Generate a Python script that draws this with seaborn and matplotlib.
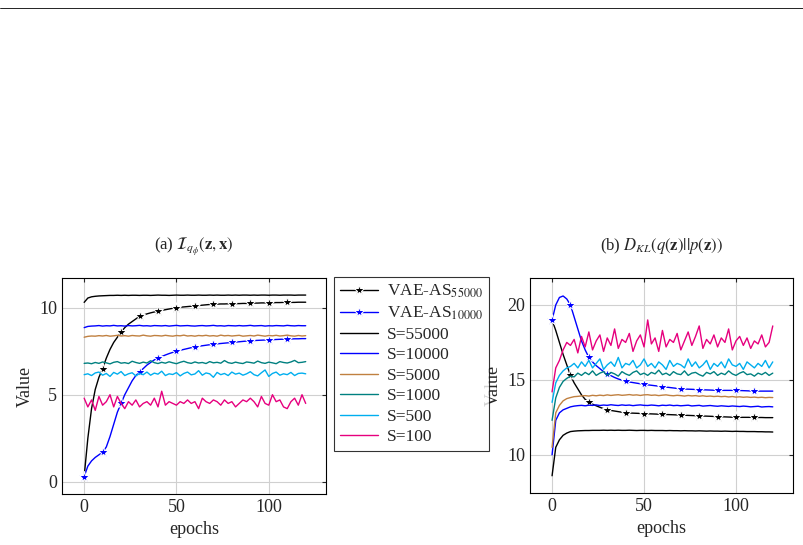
import numpy as np
import matplotlib
matplotlib.use("Agg")
import matplotlib.pyplot as plt
from matplotlib.lines import Line2D
import seaborn as sns

epochs = list(range(0, 121, 2))

# (a) mutual information
mi_vae_55000 = [0.3, 2.5, 4.2, 5.3, 6.0, 6.5, 7.1, 7.6, 8.0, 8.3, 8.6, 8.85, 9.05, 9.2, 9.35, 9.5,
                9.57, 9.64, 9.7, 9.75, 9.8, 9.84, 9.88, 9.92, 9.96, 10.0, 10.02, 10.04, 10.06, 10.08,
                10.1, 10.12, 10.14, 10.16, 10.18, 10.2, 10.2, 10.21, 10.21, 10.22, 10.22, 10.23,
                10.23, 10.24, 10.24, 10.25, 10.26, 10.26, 10.27, 10.27, 10.28, 10.28, 10.29, 10.29,
                10.3, 10.3, 10.3, 10.3, 10.31, 10.31, 10.31]
mi_vae_10000 = [0.3, 0.9, 1.2, 1.4, 1.55, 1.7, 2.0, 2.6, 3.3, 4.0, 4.5, 5.0, 5.4, 5.8, 6.1, 6.3,
                6.5, 6.7, 6.85, 7.0, 7.1, 7.19, 7.28, 7.36, 7.43, 7.5, 7.55, 7.6, 7.65, 7.7, 7.75,
                7.78, 7.81, 7.84, 7.87, 7.9, 7.92, 7.94, 7.96, 7.98, 8.0, 8.02, 8.04, 8.06, 8.08,
                8.1, 8.11, 8.12, 8.13, 8.14, 8.15, 8.16, 8.17, 8.18, 8.19, 8.2, 8.2, 8.21, 8.21,
                8.22, 8.22]
mi_s55000 = [10.3, 10.55, 10.62, 10.65, 10.67, 10.68, 10.69, 10.7, 10.7, 10.71, 10.7, 10.71, 10.7,
             10.71, 10.71, 10.7, 10.71, 10.71, 10.7, 10.71, 10.72, 10.71, 10.71, 10.7, 10.71, 10.72,
             10.71, 10.71, 10.72, 10.71, 10.71, 10.72, 10.71, 10.71, 10.72, 10.71, 10.72, 10.71,
             10.71, 10.72, 10.71, 10.72, 10.71, 10.72, 10.72, 10.71, 10.72, 10.71, 10.72, 10.72,
             10.71, 10.72, 10.72, 10.71, 10.72, 10.72, 10.72, 10.71, 10.72, 10.72, 10.72]
mi_s10000 = [8.85, 8.92, 8.94, 8.95, 8.97, 8.94, 8.96, 8.95, 8.98, 8.95, 8.96, 8.94, 8.97, 8.95,
             8.96, 8.98, 8.95, 8.96, 8.94, 8.97, 8.96, 8.95, 8.97, 8.94, 8.96, 8.98, 8.95, 8.96,
             8.97, 8.95, 8.94, 8.96, 8.97, 8.95, 8.96, 8.98, 8.95, 8.96, 8.94, 8.97, 8.96, 8.95,
             8.97, 8.95, 8.96, 8.98, 8.95, 8.96, 8.97, 8.94, 8.96, 8.95, 8.97, 8.96, 8.95, 8.98,
             8.96, 8.95, 8.97, 8.96, 8.96]
mi_s5000 = [8.3, 8.35, 8.37, 8.36, 8.39, 8.37, 8.4, 8.36, 8.38, 8.41, 8.37, 8.39, 8.36, 8.4, 8.38,
            8.37, 8.42, 8.38, 8.36, 8.4, 8.39, 8.37, 8.41, 8.38, 8.36, 8.4, 8.38, 8.42, 8.37, 8.39,
            8.36, 8.4, 8.38, 8.41, 8.37, 8.39, 8.36, 8.42, 8.38, 8.4, 8.37, 8.39, 8.41, 8.36, 8.38,
            8.4, 8.37, 8.42, 8.39, 8.36, 8.4, 8.38, 8.41, 8.37, 8.39, 8.42, 8.38, 8.36, 8.4, 8.37,
            8.39]
mi_s1000 = [6.8, 6.82, 6.78, 6.85, 6.8, 6.88, 6.83, 6.77, 6.86, 6.9, 6.81, 6.84, 6.79, 6.92, 6.85,
            6.8, 6.87, 6.82, 6.95, 6.84, 6.79, 6.86, 6.81, 6.89, 6.83, 6.78, 6.86, 6.92, 6.84,
            6.8, 6.88, 6.82, 6.85, 6.79, 6.9, 6.83, 6.86, 6.81, 6.96, 6.84, 6.8, 6.87, 6.82, 6.79,
            6.88, 6.85, 6.81, 6.93, 6.84, 6.8, 6.87, 6.83, 6.78, 6.9, 6.85, 6.82, 6.88, 6.97, 6.84,
            6.86, 6.9]
mi_s500 = [6.15, 6.2, 6.1, 6.25, 6.3, 6.12, 6.22, 6.05, 6.28, 6.18, 6.33, 6.1, 6.2, 6.26, 6.08,
           6.22, 6.15, 6.3, 6.12, 6.24, 6.18, 6.35, 6.1, 6.2, 6.16, 6.27, 6.08, 6.22, 6.3, 6.14,
           6.19, 6.38, 6.12, 6.25, 6.2, 6.0, 6.28, 6.15, 6.22, 6.1, 6.3, 6.18, 6.24, 6.12, 6.2,
           6.32, 6.15, 6.08, 6.26, 6.42, 6.05, 6.22, 6.3, 6.12, 6.2, 6.15, 6.28, 6.1, 6.22, 6.24,
           6.2]
mi_s100 = [4.8, 4.3, 4.7, 4.1, 4.9, 4.4, 4.6, 5.0, 4.3, 4.9, 4.5, 4.2, 4.6, 4.4, 4.7, 4.3, 4.5,
           4.6, 4.4, 4.8, 4.3, 5.2, 4.4, 4.6, 4.5, 4.4, 4.6, 4.5, 4.7, 4.5, 4.6, 4.2, 4.8, 4.6,
           4.5, 4.7, 4.6, 4.4, 4.7, 4.5, 4.6, 4.3, 4.5, 4.7, 4.6, 4.8, 4.6, 4.3, 4.9, 4.5, 4.4,
           5.0, 4.6, 4.7, 4.3, 4.2, 4.6, 4.8, 4.4, 5.0, 4.5]

# (b) KL divergence
kl_vae_55000 = [19.0, 18.3, 17.5, 16.7, 16.0, 15.3, 14.8, 14.4, 14.0, 13.7, 13.5, 13.38, 13.27,
                13.17, 13.08, 13.0, 12.96, 12.92, 12.88, 12.84, 12.8, 12.79, 12.78, 12.77, 12.76,
                12.75, 12.74, 12.73, 12.72, 12.71, 12.7, 12.69, 12.68, 12.67, 12.66, 12.65, 12.64,
                12.63, 12.62, 12.61, 12.6, 12.59, 12.58, 12.57, 12.56, 12.55, 12.54, 12.53, 12.52,
                12.51, 12.5, 12.5, 12.5, 12.5, 12.5, 12.5, 12.49, 12.49, 12.48, 12.48, 12.48]
kl_vae_10000 = [19.0, 20.0, 20.5, 20.6, 20.4, 20.0, 19.2, 18.4, 17.6, 17.0, 16.5, 16.2, 15.95,
                15.75, 15.55, 15.4, 15.28, 15.16, 15.06, 14.98, 14.9, 14.86, 14.82, 14.78, 14.74,
                14.7, 14.67, 14.64, 14.61, 14.58, 14.55, 14.52, 14.49, 14.46, 14.43, 14.4, 14.39,
                14.38, 14.37, 14.36, 14.35, 14.34, 14.33, 14.32, 14.31, 14.3, 14.3, 14.3, 14.3,
                14.3, 14.3, 14.29, 14.28, 14.27, 14.26, 14.25, 14.25, 14.25, 14.25, 14.25, 14.25]
kl_s55000 = [8.6, 10.5, 11.0, 11.3, 11.45, 11.55, 11.58, 11.6, 11.61, 11.62, 11.62, 11.63, 11.63,
             11.63, 11.64, 11.63, 11.64, 11.63, 11.64, 11.63, 11.63, 11.64, 11.63, 11.62, 11.63,
             11.63, 11.62, 11.63, 11.62, 11.62, 11.62, 11.61, 11.62, 11.61, 11.61, 11.6, 11.61,
             11.6, 11.6, 11.59, 11.6, 11.59, 11.58, 11.59, 11.58, 11.58, 11.57, 11.58, 11.57,
             11.56, 11.57, 11.56, 11.56, 11.55, 11.55, 11.55, 11.54, 11.54, 11.53, 11.53, 11.52]
kl_s10000 = [10.0, 12.3, 12.8, 13.0, 13.1, 13.2, 13.25, 13.28, 13.3, 13.27, 13.31, 13.3, 13.33,
             13.29, 13.32, 13.3, 13.34, 13.31, 13.29, 13.33, 13.3, 13.32, 13.28, 13.31, 13.33,
             13.3, 13.29, 13.32, 13.3, 13.27, 13.31, 13.29, 13.32, 13.28, 13.3, 13.27, 13.29,
             13.31, 13.26, 13.28, 13.3, 13.25, 13.27, 13.29, 13.26, 13.24, 13.27, 13.25, 13.23,
             13.26, 13.24, 13.22, 13.25, 13.23, 13.2, 13.22, 13.24, 13.19, 13.21, 13.22, 13.2]
kl_s5000 = [10.5, 12.8, 13.3, 13.6, 13.75, 13.82, 13.88, 13.9, 13.93, 13.95, 13.92, 13.97, 13.94,
            13.98, 13.95, 14.0, 13.96, 13.99, 14.01, 13.97, 13.99, 14.02, 13.98, 14.0, 13.96, 14.0,
            14.01, 13.97, 13.99, 13.95, 13.98, 14.0, 13.96, 13.94, 13.97, 13.95, 13.92, 13.96,
            13.93, 13.95, 13.91, 13.94, 13.9, 13.92, 13.89, 13.91, 13.88, 13.9, 13.86, 13.89,
            13.85, 13.87, 13.84, 13.86, 13.83, 13.85, 13.82, 13.84, 13.81, 13.83, 13.82]
kl_s1000 = [12.3, 13.8, 14.5, 14.9, 15.1, 15.25, 15.2, 15.45, 15.3, 15.5, 15.35, 15.6, 15.3, 15.45,
            15.55, 15.3, 15.5, 15.4, 15.25, 15.55, 15.4, 15.3, 15.5, 15.6, 15.35, 15.45, 15.3,
            15.5, 15.4, 15.65, 15.35, 15.45, 15.3, 15.55, 15.4, 15.35, 15.6, 15.3, 15.45, 15.5,
            15.35, 15.25, 15.5, 15.4, 15.55, 15.3, 15.45, 15.35, 15.6, 15.4, 15.3, 15.45, 15.55,
            15.35, 15.4, 15.25, 15.45, 15.35, 15.5, 15.3, 15.45]
kl_s500 = [13.5, 14.8, 15.3, 15.6, 15.8, 15.9, 16.1, 15.8, 16.2, 15.9, 16.3, 15.8, 16.1, 16.4,
           15.7, 16.0, 16.2, 15.9, 16.5, 15.8, 16.1, 16.0, 16.3, 15.8, 16.0, 16.4, 15.9, 16.1,
           15.8, 16.2, 16.0, 15.7, 16.3, 15.9, 16.1, 16.0, 15.8, 16.4, 15.9, 16.2, 15.8, 16.0,
           16.3, 15.7, 16.1, 15.9, 16.2, 15.8, 16.4, 16.0, 15.9, 16.1, 15.7, 16.2, 16.0, 15.8,
           16.1, 15.9, 16.3, 15.8, 16.2]
kl_s100 = [14.2, 15.8, 16.3, 17.0, 17.5, 17.3, 17.7, 16.8, 17.9, 17.2, 18.2, 17.0, 17.6, 18.0,
           16.9, 17.8, 17.3, 18.4, 17.1, 17.7, 17.5, 18.1, 16.9, 17.6, 18.0, 17.2, 19.0, 17.4,
           17.8, 16.9, 18.3, 17.2, 17.7, 17.5, 18.1, 17.0, 17.6, 18.2, 17.3, 17.9, 18.6, 17.1,
           17.7, 17.4, 18.0, 17.2, 17.8, 17.5, 18.4, 17.0, 17.6, 17.9, 17.3, 17.8, 17.1, 17.6,
           17.4, 18.0, 17.2, 17.5, 18.6]

labels = ["VAE-AS$_{55000}$", "VAE-AS$_{10000}$", "S=55000", "S=10000",
          "S=5000", "S=1000", "S=500", "S=100"]
colors = ["black", "#0000ff", "black", "#0000ff", "#c08040", "#008080", "#00aeef", "#e6007e"]

sns.set_style("white")
plt.rcParams["font.family"] = ["Liberation Serif", "DejaVu Serif"]
plt.rcParams["mathtext.fontset"] = "stix"
plt.rcParams["font.size"] = 12

fig = plt.figure(figsize=(8.04, 5.45), dpi=100)
W, H = 804, 545
ax1 = fig.add_axes([62 / W, 1 - 494 / H, 264 / W, 216 / H])
ax2 = fig.add_axes([530 / W, 1 - 493 / H, 263 / W, 215 / H])
fig.add_artist(Line2D([0, 1], [1 - 8 / H, 1 - 8 / H], color="black", lw=0.6))


def draw(ax, series, title, ylim, yticks):
    for i, (vals, lab, col) in enumerate(zip(series, labels, colors)):
        kw = dict(marker="*", markersize=8, markevery=slice(0, 56, 5)) if i < 2 else {}
        sns.lineplot(x=epochs, y=vals, ax=ax, color=col, lw=1.0, label=lab, legend=False, **kw)
    ax.set_xlim(-12, 131)
    ax.set_ylim(*ylim)
    ax.set_xticks([0, 50, 100])
    ax.set_yticks(yticks)
    ax.grid(True, color="#d0d0d0", lw=0.8)
    ax.set_axisbelow(True)
    ax.tick_params(direction="in", top=True, right=True, length=3, labelsize=13)
    for s in ax.spines.values():
        s.set_color("black")
        s.set_linewidth(0.8)
    ax.set_xlabel("epochs", fontsize=13)
    ax.set_ylabel("Value", fontsize=13)
    ax.set_title(title, fontsize=12, pad=20)


draw(ax1, [mi_vae_55000, mi_vae_10000, mi_s55000, mi_s10000, mi_s5000, mi_s1000, mi_s500, mi_s100],
     r"(a) $\mathcal{I}_{q_\phi}(\mathbf{z},\mathbf{x})$", (-0.7, 11.7), [0, 5, 10])
draw(ax2, [kl_vae_55000, kl_vae_10000, kl_s55000, kl_s10000, kl_s5000, kl_s1000, kl_s500, kl_s100],
     r"(b) $D_{KL}(q(\mathbf{z})||p(\mathbf{z}))$", (7.45, 21.8), [10, 15, 20])

handles, labs = ax1.get_legend_handles_labels()
leg = fig.legend(handles, labs, loc="upper left", bbox_to_anchor=(334 / W, 1 - 277 / H),
                 frameon=True, fancybox=False, edgecolor="black", fontsize=12.5,
                 handlelength=2.2, handletextpad=0.5, labelspacing=0.25, borderpad=0.35,
                 borderaxespad=0)
leg.get_frame().set_linewidth(0.8)

fig.savefig("out.png", dpi=100)
